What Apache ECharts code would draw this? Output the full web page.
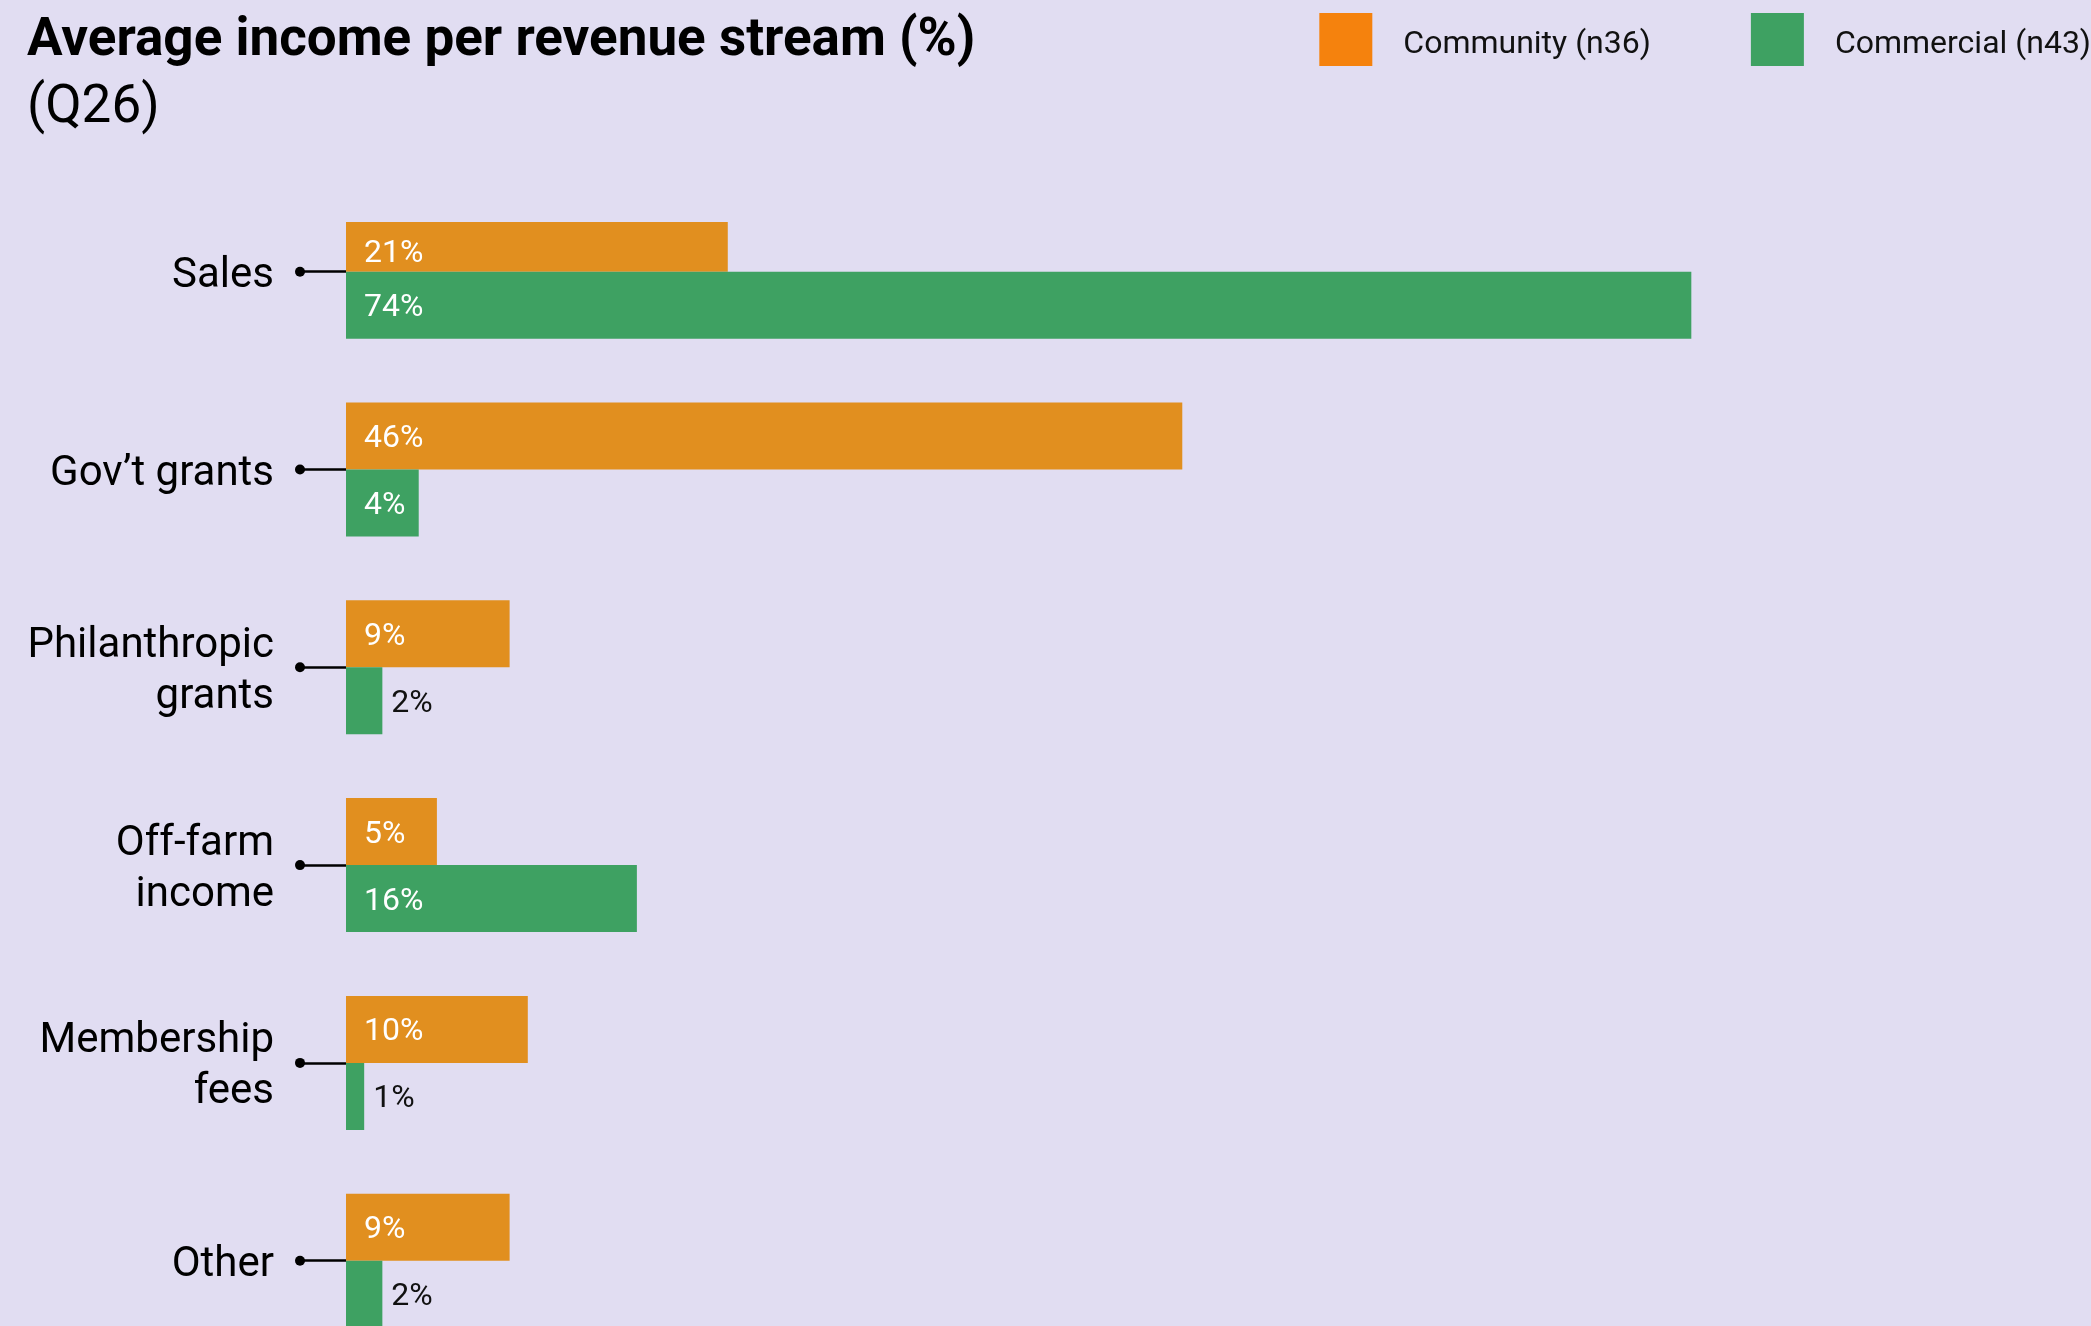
<!DOCTYPE html>
<html>
<head>
<meta charset="utf-8">
<script src="https://cdn.jsdelivr.net/npm/echarts@6/dist/echarts.min.js"></script>
<style>
  html, body { margin: 0; padding: 0; background: #e1ddf2; overflow: hidden; }
  /* the canvas runs past the bottom of the page so the last row is cut at the page edge */
  #chart { width: 2091px; height: 1400px; }
</style>
</head>
<body>
<div id="chart"></div>
<script>
// Revenue streams and average share of income per group (%)
const categories = ['Sales', 'Gov’t grants', 'Philanthropic\ngrants', 'Off-farm\nincome', 'Membership\nfees', 'Other'];
const communityValues = [21, 46, 9, 5, 10, 9];
const commercialValues = [74, 4, 2, 16, 1, 2];
const seriesNames = ['Community (n36)', 'Commercial (n43)'];
const titleText = 'Average income per revenue stream (%)';
const subtitleText = '(Q26)';

const BG = '#e1ddf2';
const FONT = 'Roboto, "Noto Sans", sans-serif';
const BAR_COLORS = ['#e18f1f', '#3ea162'];
const LEGEND_COLORS = ['#f5820d', '#3ea162'];
const HEADER_HEIGHT = 222;

// Values too small to hold their label get it just outside the bar, in black
function barLabel(v, shiftY) {
  const inside = v >= 3;
  return {
    show: true,
    position: inside ? 'insideLeft' : 'right',
    distance: inside ? 18 : 9,
    formatter: '{c}%',
    color: inside ? '#ffffff' : '#111111',
    fontFamily: FONT,
    fontSize: 32,
    offset: [0, 3 + (shiftY || 0)]
  };
}

function seriesData(values, isTopSeries) {
  return values.map((v, i) => ({
    value: v,
    // the first row's upper bar runs under the header band; keep its label in the visible strip
    label: barLabel(v, isTopSeries && i === 0 ? 13 : 0)
  }));
}

const chart = echarts.init(document.getElementById('chart'), null, { renderer: 'canvas' });

chart.setOption({
  backgroundColor: BG,
  animation: false,
  title: {
    left: 27,
    top: 8,
    padding: 0,
    z: 60,
    text: '{b|' + titleText + '}\n{n|' + subtitleText + '}',
    textStyle: {
      rich: {
        b: { fontFamily: FONT, fontSize: 53, fontWeight: 'bold', lineHeight: 67, color: '#000000' },
        n: { fontFamily: FONT, fontSize: 53, fontWeight: 'normal', lineHeight: 67, color: '#000000' }
      }
    }
  },
  legend: {
    right: 0,
    top: 13,
    padding: 0,
    z: 60,
    icon: 'rect',
    itemWidth: 53,
    itemHeight: 53,
    itemGap: 100,
    selectedMode: false,
    data: seriesNames.map((n, i) => ({ name: n, itemStyle: { color: LEGEND_COLORS[i] } })),
    formatter: name => '{t|' + name + '}',
    textStyle: {
      fontFamily: FONT, fontSize: 32, color: '#111111', padding: [0, 0, 0, 26],
      rich: { t: { fontFamily: FONT, fontSize: 32, color: '#111111', padding: [10, 0, 0, 0] } }
    }
  },
  graphic: [{
    type: 'rect',
    left: 0,
    top: 0,
    z: 50,
    shape: { width: 2091, height: HEADER_HEIGHT },
    style: { fill: BG }
  }],
  grid: { left: 346, top: 172.8, width: 1454.4, height: 1186.8, containLabel: false },
  xAxis: { type: 'value', min: 0, max: 80, show: false },
  yAxis: [
    {
      type: 'category',
      data: categories,
      inverse: true,
      axisLine: { show: false },
      axisTick: { show: true, length: 46, alignWithLabel: true, interval: 0, lineStyle: { color: '#000000', width: 2.5 } },
      axisLabel: {
        interval: 0,
        margin: 72,
        align: 'right',
        formatter: value => value.split('\n').map(line => '{c|' + line + '}').join('\n'),
        rich: { c: { fontFamily: FONT, fontSize: 42, lineHeight: 51, color: '#000000', align: 'right', padding: [9, 0, 0, 0] } }
      }
    },
    {
      type: 'category',
      data: categories,
      inverse: true,
      position: 'left',
      offset: 0,
      axisLine: { show: false },
      axisTick: { show: false },
      axisLabel: {
        interval: 0,
        margin: 41,
        formatter: () => '{d| }',
        rich: { d: { width: 10, height: 10, borderRadius: 5, backgroundColor: '#000000' } }
      }
    }
  ],
  series: [
    {
      name: seriesNames[0],
      type: 'bar',
      yAxisIndex: 0,
      barWidth: 67,
      barGap: '0%',
      itemStyle: { color: BAR_COLORS[0] },
      data: seriesData(communityValues, true)
    },
    {
      name: seriesNames[1],
      type: 'bar',
      yAxisIndex: 0,
      barWidth: 67,
      barGap: '0%',
      itemStyle: { color: BAR_COLORS[1] },
      data: seriesData(commercialValues, false)
    }
  ]
});
</script>
</body>
</html>
